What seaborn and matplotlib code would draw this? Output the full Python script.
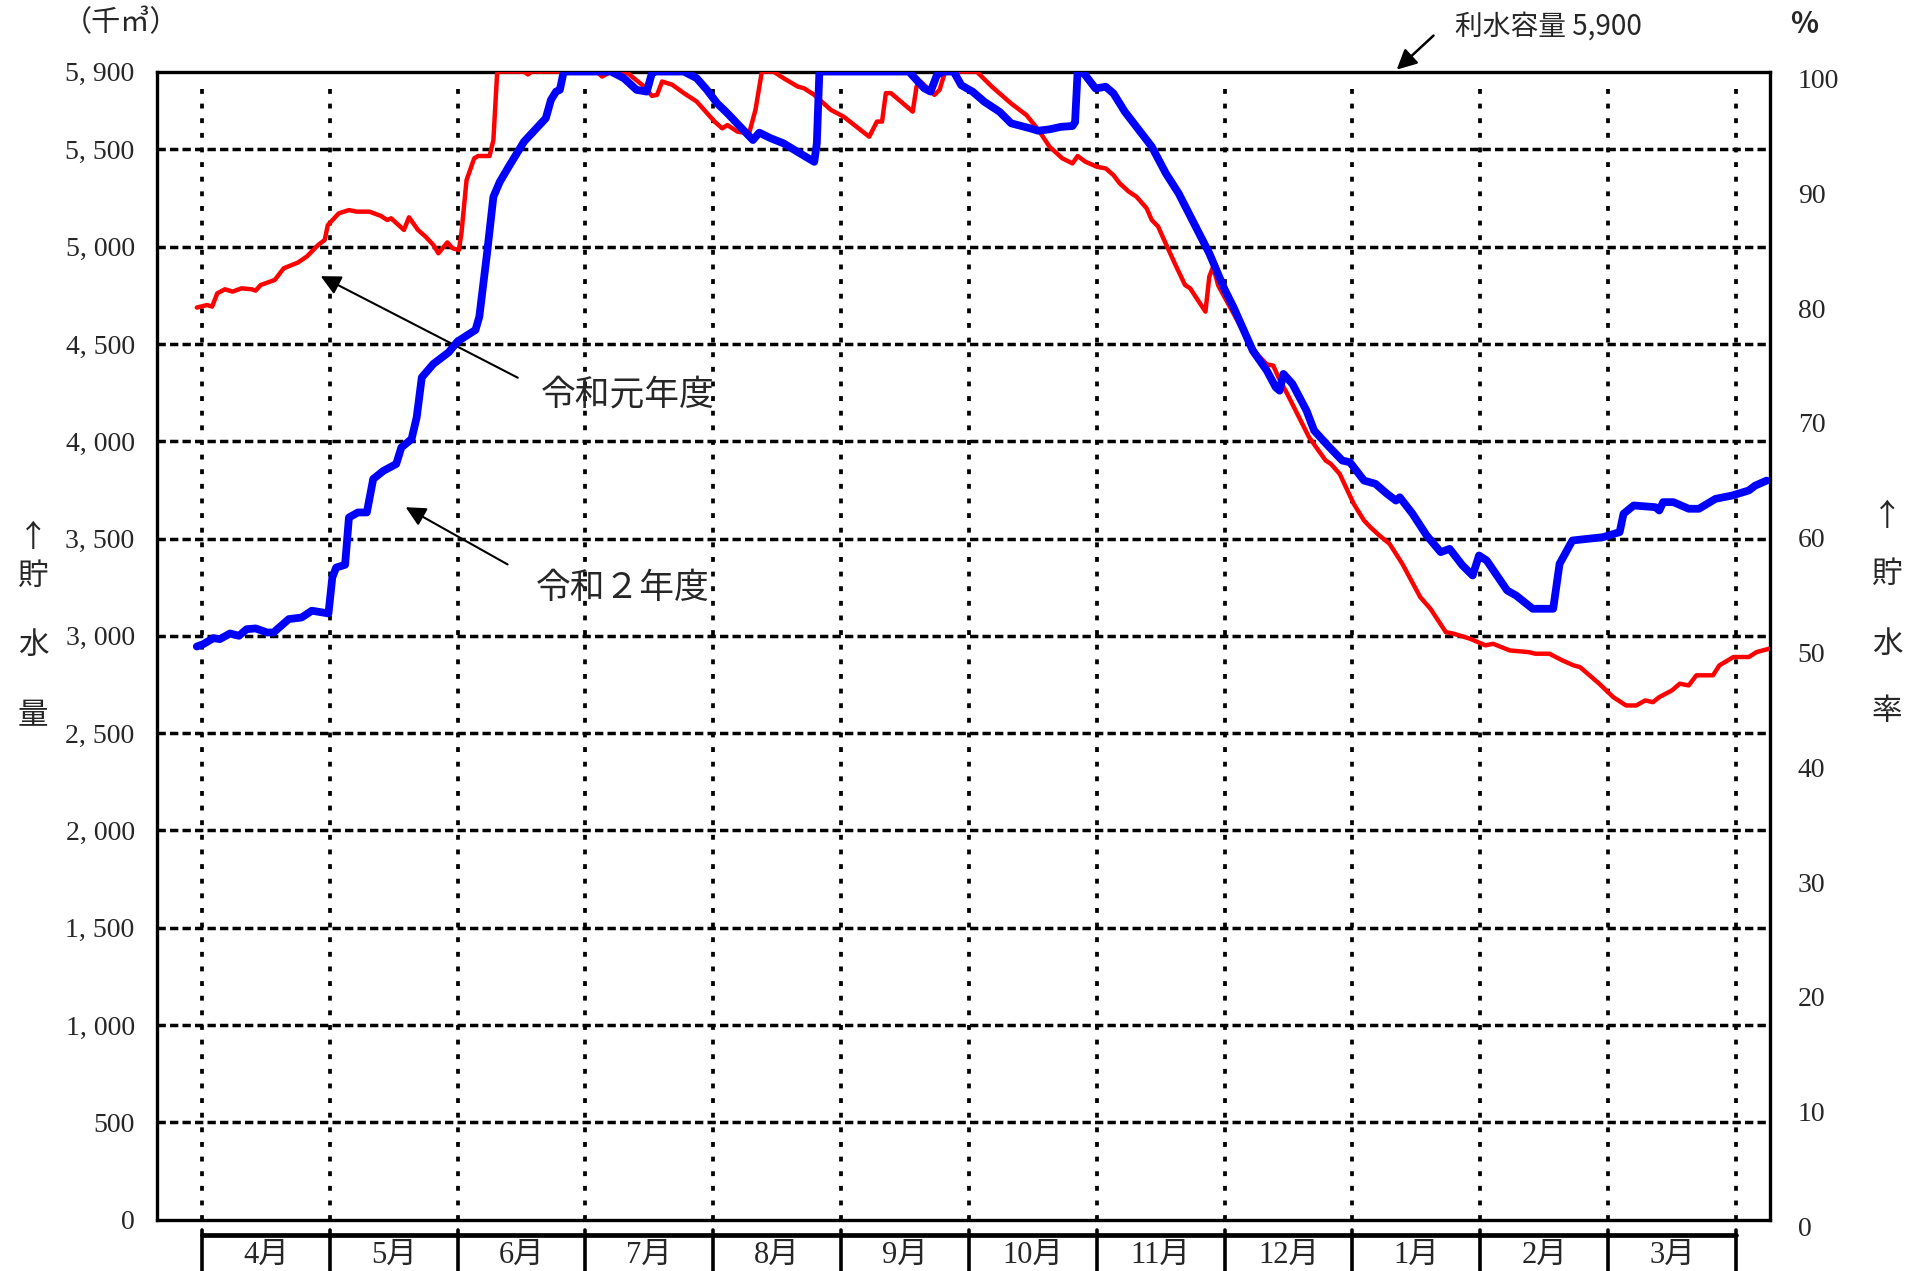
import numpy as np
import pandas as pd
import matplotlib
matplotlib.use("Agg")
import matplotlib.pyplot as plt
import matplotlib.transforms as mtransforms
import seaborn as sns

# month axis: 0 = 1 April, 12 = end of March
months = ["4月", "5月", "6月", "7月", "8月", "9月", "10月", "11月", "12月", "1月", "2月", "3月"]
capacity = 5900

# 令和元年度 (red)
r1_x = [-0.04, 0.04, 0.08, 0.12, 0.18, 0.24, 0.31, 0.39, 0.42, 0.46, 0.57, 0.64, 0.75, 0.82, 0.91, 0.96,
        0.985, 1.07, 1.15, 1.21, 1.31, 1.40, 1.45, 1.48, 1.58, 1.62, 1.69, 1.75, 1.81, 1.85, 1.92, 1.96,
        2.01, 2.03, 2.07, 2.13, 2.16, 2.25, 2.28, 2.31, 2.52, 2.55, 2.58, 3.09, 3.13, 3.20, 3.33, 3.46,
        3.52, 3.56, 3.60, 3.68, 3.77, 3.87, 4.01, 4.07, 4.11, 4.19, 4.28, 4.33, 4.38, 4.47, 4.55, 4.66,
        4.71, 4.79, 4.92, 5.02, 5.22, 5.28, 5.32, 5.35, 5.39, 5.56, 5.59, 5.62, 5.73, 5.77, 5.81, 5.85,
        6.06, 6.18, 6.33, 6.45, 6.54, 6.63, 6.73, 6.81, 6.85, 6.91, 7.00, 7.07, 7.13, 7.18, 7.25, 7.31,
        7.39, 7.43, 7.48, 7.55, 7.61, 7.69, 7.73, 7.85, 7.88, 7.91, 7.95, 8.05, 8.15, 8.25, 8.33, 8.38,
        8.42, 8.49, 8.66, 8.79, 8.83, 8.90, 9.01, 9.09, 9.14, 9.21, 9.29, 9.39, 9.53, 9.61, 9.73, 9.79,
        9.92, 10.04, 10.10, 10.23, 10.38, 10.43, 10.54, 10.64, 10.73, 10.78, 10.93, 11.04, 11.14, 11.22,
        11.29, 11.35, 11.40, 11.50, 11.56, 11.63, 11.69, 11.82, 11.87, 11.98, 12.10, 12.16, 12.26]
r1_v = [4687, 4700, 4692, 4760, 4781, 4769, 4786, 4781, 4774, 4803, 4829, 4889, 4918, 4949, 5009, 5034,
        5111, 5171, 5188, 5180, 5180, 5158, 5137, 5146, 5086, 5151, 5086, 5051, 5009, 4966, 5022, 4992,
        4983, 5069, 5342, 5454, 5466, 5466, 5548, 5900, 5900, 5885, 5900, 5900, 5874, 5900, 5892, 5823,
        5775, 5780, 5849, 5832, 5789, 5746, 5643, 5608, 5625, 5591, 5582, 5703, 5900, 5900, 5866, 5823,
        5814, 5780, 5703, 5668, 5565, 5643, 5643, 5789, 5789, 5694, 5823, 5849, 5780, 5806, 5892, 5900,
        5900, 5822, 5736, 5676, 5603, 5514, 5454, 5428, 5466, 5437, 5411, 5402, 5368, 5325, 5283, 5257,
        5197, 5137, 5103, 5000, 4914, 4803, 4786, 4666, 4846, 4897, 4800, 4680, 4560, 4450, 4395, 4389,
        4330, 4243, 4021, 3901, 3884, 3832, 3678, 3593, 3558, 3516, 3473, 3370, 3199, 3139, 3019, 3011,
        2985, 2951, 2959, 2925, 2916, 2908, 2908, 2874, 2848, 2839, 2754, 2685, 2642, 2642,
        2668, 2659, 2685, 2720, 2754, 2745, 2797, 2797, 2848, 2891, 2891, 2916, 2934]

# 令和２年度 (blue)
r2_x = [-0.04, 0.01, 0.09, 0.14, 0.22, 0.29, 0.35, 0.42, 0.51, 0.56, 0.68, 0.78, 0.86, 0.99, 1.02, 1.05,
        1.12, 1.15, 1.22, 1.29, 1.34, 1.42, 1.52, 1.56, 1.64, 1.68, 1.72, 1.81, 1.93, 2.00, 2.14, 2.17,
        2.23, 2.28, 2.33, 2.40, 2.52, 2.69, 2.73, 2.77, 2.80, 2.83, 3.20, 3.30, 3.40, 3.48, 3.52, 3.55,
        3.77, 3.87, 3.95, 4.03, 4.11, 4.21, 4.31, 4.36, 4.45, 4.55, 4.68, 4.79, 4.81, 4.83, 5.53, 5.65,
        5.70, 5.75, 5.80, 5.88, 5.94, 6.03, 6.12, 6.24, 6.33, 6.48, 6.54, 6.63, 6.72, 6.81, 6.83, 6.85,
        6.90, 6.99, 7.07, 7.13, 7.22, 7.34, 7.43, 7.54, 7.64, 7.76, 7.88, 8.00, 8.07, 8.22, 8.33, 8.40,
        8.43, 8.46, 8.53, 8.64, 8.70, 8.82, 8.92, 8.98, 9.09, 9.18, 9.27, 9.34, 9.37, 9.47, 9.58, 9.69,
        9.76, 9.86, 9.94, 9.99, 10.05, 10.13, 10.21, 10.28, 10.41, 10.57, 10.62, 10.72, 10.83, 10.96,
        11.09, 11.12, 11.20, 11.37, 11.40, 11.43, 11.51, 11.63, 11.71, 11.84, 11.97, 12.10, 12.15, 12.24]
r2_v = [2945, 2957, 2988, 2983, 3012, 3000, 3034, 3038, 3017, 3017, 3086, 3094, 3129, 3115, 3300, 3351,
        3365, 3608, 3634, 3634, 3806, 3848, 3883, 3968, 4011, 4123, 4328, 4397, 4457, 4513, 4572, 4640,
        4964, 5256, 5333, 5411, 5540, 5660, 5754, 5797, 5806, 5900, 5900, 5866, 5806, 5797, 5892, 5900,
        5900, 5866, 5806, 5737, 5686, 5617, 5548, 5586, 5557, 5531, 5479, 5436, 5531, 5900, 5900, 5814,
        5797, 5883, 5900, 5900, 5830, 5796, 5745, 5693, 5634, 5608, 5596, 5603, 5616, 5620, 5640, 5900,
        5890, 5813, 5822, 5788, 5693, 5591, 5514, 5377, 5274, 5120, 4966, 4780, 4688, 4466, 4363, 4277,
        4260, 4346, 4295, 4158, 4055, 3969, 3901, 3892, 3798, 3781, 3730, 3695, 3712, 3627, 3516, 3430,
        3447, 3362, 3310, 3413, 3387, 3310, 3233, 3207, 3139, 3139, 3370, 3490, 3498, 3507,
        3533, 3627, 3670, 3661, 3644, 3687, 3687, 3653, 3653, 3704, 3721, 3747, 3772, 3798]

left_ticks = [0, 500, 1000, 1500, 2000, 2500, 3000, 3500, 4000, 4500, 5000, 5500, 5900]
left_labels = ["0", "500", "1, 000", "1, 500", "2, 000", "2, 500", "3, 000", "3, 500", "4, 000",
               "4, 500", "5, 000", "5, 500", "5, 900"]
right_ticks = [0, 10, 20, 30, 40, 50, 60, 70, 80, 90, 100]

sns.set_style("white")
plt.rcParams['font.family'] = ['Noto Sans CJK JP', 'DejaVu Sans']
serif = ['Liberation Serif', 'Noto Sans CJK JP']
jp = ['Noto Sans CJK JP', 'DejaVu Sans']

fig = plt.figure(figsize=(19.3, 12.71), dpi=100)
ax = fig.add_axes([0.0813, 0.0405, 0.8358, 0.9032])

df1 = pd.DataFrame({"m": r1_x, "v": r1_v})
df2 = pd.DataFrame({"m": r2_x, "v": r2_v})
sns.lineplot(data=df1, x="m", y="v", ax=ax, color="#ff0000", lw=3.2, sort=False, estimator=None, zorder=5)
sns.lineplot(data=df2, x="m", y="v", ax=ax, color="#0000ff", lw=5.6, sort=False, estimator=None, zorder=6)

ax.set_xlim(-0.352, 12.266)
ax.set_ylim(0, capacity)
ax.set_xlabel("")
ax.set_ylabel("")
ax.set_xticks([])
ax.set_yticks(left_ticks)
ax.set_yticklabels(left_labels, family=serif, fontsize=20)
ax.tick_params(axis="y", length=0, pad=16)

for v in range(500, 5501, 500):
    ax.axhline(v, color="black", lw=2.5, ls=(0, (2.4, 1.2)), zorder=2)
for i in range(13):
    ax.axvline(i, ymin=0, ymax=0.986, color="black", lw=2.7, ls=(0, (1.3, 2.6)), zorder=2)

for s in ax.spines.values():
    s.set_linewidth(2.4)
    s.set_color("black")

# right axis (%)
ax2 = ax.twinx()
ax2.set_ylim(0, 100)
ax2.set_yticks(right_ticks)
ax2.set_yticklabels([str(t) for t in right_ticks], family=serif, fontsize=20)
ax2.tick_params(axis="y", length=0, pad=20)
for s in ax2.spines.values():
    s.set_visible(False)
off = mtransforms.ScaledTranslation(0, -5 / 72, fig.dpi_scale_trans)
for lab in ax2.get_yticklabels():
    lab.set_transform(lab.get_transform() + off)

# month table under the axis
trans = mtransforms.blended_transform_factory(ax.transData, ax.transAxes)
ax.plot([0, 12], [-0.0135, -0.0135], transform=trans, color="black", lw=3.4, clip_on=False)
for i in range(13):
    ax.plot([i, i], [-0.009, -0.05], transform=trans, color="black", lw=2.6, clip_on=False)
for i, lab in enumerate(months):
    ax.text(i + 0.5, -0.031, lab, transform=trans, ha="center", va="center",
            family=serif, fontsize=22)

# annotations
ax.annotate("", xy=(9.33, 1.0), xytext=(9.65, 1.033), xycoords=trans, textcoords=trans,
            arrowprops=dict(arrowstyle="-|>", color="black", lw=1.8, mutation_scale=30),
            annotation_clip=False)
ax.annotate("", xy=(0.91, 4855), xytext=(2.49, 4320),
            arrowprops=dict(arrowstyle="-|>", color="black", lw=1.5, mutation_scale=30))
ax.annotate("", xy=(1.575, 3668), xytext=(2.41, 3360),
            arrowprops=dict(arrowstyle="-|>", color="black", lw=1.5, mutation_scale=30))
ax.text(3.33, 4237, "令和元年度", ha="center", va="center", family=jp, fontsize=25, zorder=7)
ax.text(3.29, 3245, "令和２年度", ha="center", va="center", family=jp, fontsize=25, zorder=7)

W, H = 1930, 1271
fig.text(121 / W, 1 - 23 / H, "（千㎥）", ha="center", va="center", family=jp, fontsize=21)
fig.text(1804 / W, 1 - 24 / H, "%", ha="center", va="center", family=jp, fontsize=21,
         fontweight="bold")
fig.text(1455 / W, 1 - 27 / H, "利水容量 5,900", ha="left", va="center", family=jp, fontsize=20)

for ch, y in zip(["↑", "貯", "水", "量"], [538, 576, 645, 716]):
    fig.text(33 / W, 1 - y / H, ch, ha="center", va="center", family=jp, fontsize=22)
for ch, y in zip(["↑", "貯", "水", "率"], [517, 574, 644, 711]):
    fig.text(1887 / W, 1 - y / H, ch, ha="center", va="center", family=jp, fontsize=22)

fig.savefig("out.png", dpi=100)
